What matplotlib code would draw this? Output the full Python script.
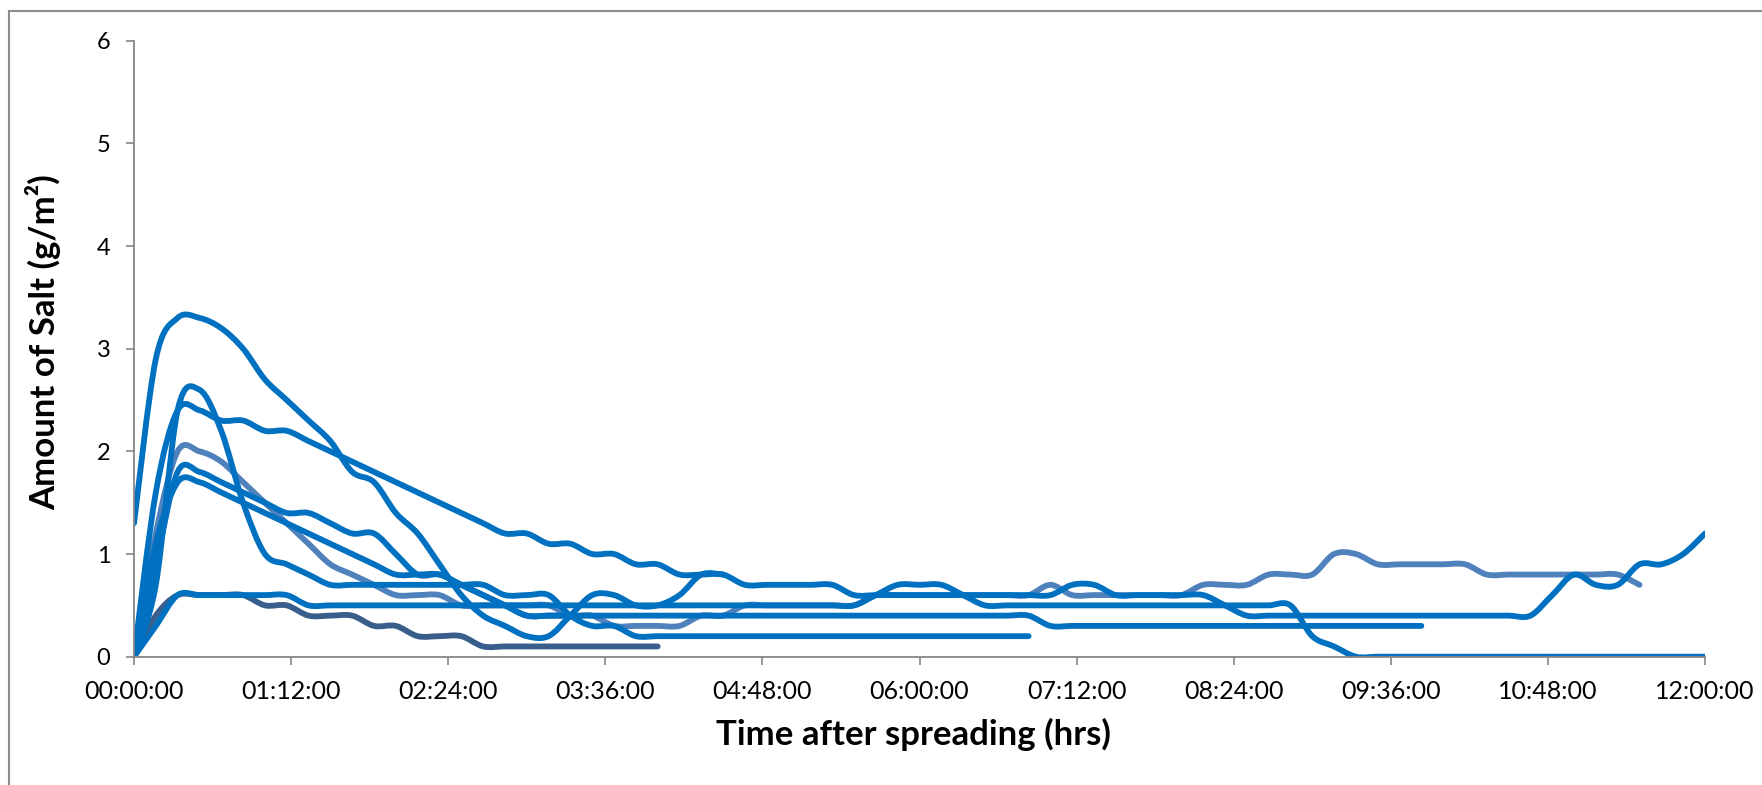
import numpy as np
import matplotlib
matplotlib.use("Agg")
import matplotlib.pyplot as plt
from matplotlib.path import Path
from matplotlib.patches import PathPatch
from matplotlib.lines import Line2D

plt.rcParams['font.family'] = ['Lato', 'DejaVu Sans']

# readings every 10 minutes after spreading (g/m2)
step_min = 10

run_a = [0.0, 1.6, 2.4, 2.4, 2.3, 2.3, 2.2, 2.2, 2.1, 2.0, 1.9, 1.8, 1.7, 1.6, 1.5, 1.4, 1.3,
         1.2, 1.2, 1.1, 1.1, 1.0, 1.0, 0.9, 0.9, 0.8, 0.8, 0.8, 0.7, 0.7, 0.7, 0.7, 0.7,
         0.6, 0.6, 0.6, 0.6, 0.6, 0.6, 0.6, 0.6, 0.6, 0.6, 0.7, 0.7, 0.6, 0.6, 0.6, 0.6, 0.6,
         0.5, 0.4, 0.4, 0.4, 0.4, 0.4, 0.4, 0.4, 0.4, 0.4, 0.4, 0.4, 0.4, 0.4, 0.4,
         0.6, 0.8, 0.7, 0.7, 0.9, 0.9, 1.0, 1.2]
run_b = [1.3, 2.9, 3.3, 3.3, 3.2, 3.0, 2.7, 2.5, 2.3, 2.1, 1.8, 1.7, 1.4, 1.2, 0.9, 0.6, 0.4,
         0.3, 0.2, 0.2, 0.4, 0.6, 0.6, 0.5, 0.5, 0.6, 0.8, 0.8]
run_c = [0.0, 0.7, 2.4, 2.6, 2.2, 1.5, 1.0, 0.9, 0.8, 0.7, 0.7, 0.7, 0.7, 0.7, 0.7, 0.7, 0.7,
         0.6, 0.6, 0.6, 0.4, 0.3, 0.3, 0.2, 0.2, 0.2, 0.2, 0.2, 0.2, 0.2, 0.2, 0.2, 0.2,
         0.2, 0.2, 0.2, 0.2, 0.2, 0.2, 0.2, 0.2, 0.2]
run_d = [0.0, 1.2, 2.0, 2.0, 1.9, 1.7, 1.5, 1.3, 1.1, 0.9, 0.8, 0.7, 0.6, 0.6, 0.6, 0.5, 0.5,
         0.5, 0.5, 0.5, 0.4, 0.4, 0.3, 0.3, 0.3, 0.3, 0.4, 0.4, 0.5, 0.5, 0.5, 0.5, 0.5,
         0.5, 0.6, 0.6, 0.6, 0.6, 0.6, 0.6, 0.6, 0.6, 0.7, 0.6, 0.6, 0.6, 0.6, 0.6, 0.6,
         0.7, 0.7, 0.7, 0.8, 0.8, 0.8, 1.0, 1.0, 0.9, 0.9, 0.9, 0.9, 0.9, 0.8, 0.8, 0.8,
         0.8, 0.8, 0.8, 0.8, 0.7]
run_e = [0.0, 0.9, 1.8, 1.8, 1.7, 1.6, 1.5, 1.4, 1.4, 1.3, 1.2, 1.2, 1.0, 0.8, 0.8, 0.7, 0.6,
         0.5, 0.4, 0.4, 0.4]
run_f = [0.0, 1.1, 1.7, 1.7, 1.6, 1.5, 1.4, 1.3, 1.2, 1.1, 1.0, 0.9, 0.8, 0.8, 0.8, 0.7, 0.6,
         0.5, 0.4, 0.4, 0.4, 0.4, 0.4, 0.4, 0.4, 0.4, 0.4, 0.4, 0.4, 0.4, 0.4, 0.4, 0.4,
         0.4, 0.4, 0.4, 0.4, 0.4, 0.4, 0.4, 0.4, 0.4, 0.3, 0.3, 0.3, 0.3, 0.3, 0.3, 0.3,
         0.3, 0.3, 0.3, 0.3, 0.3, 0.3, 0.3, 0.3, 0.3, 0.3, 0.3]
run_g = [0.0, 0.3, 0.6, 0.6, 0.6, 0.6, 0.6, 0.6, 0.5, 0.5, 0.5, 0.5, 0.5, 0.5, 0.5, 0.5, 0.5,
         0.5, 0.5, 0.5, 0.5, 0.5, 0.5, 0.5, 0.5, 0.5, 0.5, 0.5, 0.5, 0.5, 0.5, 0.5, 0.5,
         0.5, 0.6, 0.7, 0.7, 0.7, 0.6, 0.5, 0.5, 0.5, 0.5, 0.5, 0.5, 0.5, 0.5, 0.5, 0.5,
         0.5, 0.5, 0.5, 0.5, 0.5, 0.2, 0.1, 0.0, 0.0, 0.0, 0.0, 0.0, 0.0, 0.0, 0.0, 0.0,
         0.0, 0.0, 0.0, 0.0, 0.0, 0.0, 0.0, 0.0]
run_h = [0.0, 0.4, 0.6, 0.6, 0.6, 0.6, 0.5, 0.5, 0.4, 0.4, 0.4, 0.3, 0.3, 0.2, 0.2, 0.2, 0.1,
         0.1, 0.1, 0.1, 0.1, 0.1, 0.1, 0.1, 0.1]

blue = "#0070C0"
light_blue = "#4F81BD"
dark_blue = "#3A5E8C"

# drawing order: the lighter/darker runs sit underneath
series = [(run_h, dark_blue), (run_d, light_blue), (run_a, blue), (run_b, blue),
          (run_c, blue), (run_e, blue), (run_f, blue), (run_g, blue)]


def smooth_path(x, y):
    # bezier segments like the "smoothed line" option of a spreadsheet chart
    pts = np.column_stack([x, y])
    n = len(pts)
    verts = [pts[0]]
    codes = [Path.MOVETO]
    for i in range(n - 1):
        p0 = pts[max(i - 1, 0)]
        p1 = pts[i]
        p2 = pts[i + 1]
        p3 = pts[min(i + 2, n - 1)]
        verts += [p1 + (p2 - p0) / 6, p2 - (p3 - p1) / 6, p2]
        codes += [Path.CURVE4] * 3
    return Path(verts, codes)


fig = plt.figure(figsize=(17.62, 7.85), dpi=100)
ax = fig.add_axes([134 / 1762, 1 - 656.7 / 785, (1705 - 134) / 1762, (656.7 - 40.7) / 785])

for values, color in series:
    minutes = np.arange(len(values)) * step_min
    patch = PathPatch(smooth_path(minutes, values), facecolor="none", edgecolor=color,
                      lw=4.2, capstyle="round", joinstyle="round")
    ax.add_patch(patch)

ax.set_xlim(0, 720)
ax.set_ylim(0, 6)
xticks = np.arange(0, 721, 72)
ax.set_xticks(xticks)
ax.set_xticklabels([f"{int(m // 60):02d}:{int(m % 60):02d}:00" for m in xticks])
ax.set_yticks(range(0, 7))

grey = "#868686"
for side in ["top", "right"]:
    ax.spines[side].set_visible(False)
for side in ["left", "bottom"]:
    ax.spines[side].set_color(grey)
    ax.spines[side].set_linewidth(1.3)
ax.tick_params(axis="both", direction="out", length=6, width=1.2, color=grey)
ax.tick_params(axis="x", labelsize=18, pad=11)
ax.tick_params(axis="y", labelsize=17, pad=11)

ax.set_xlabel("Time after spreading (hrs)", fontsize=25, fontweight="bold", va="center")
ax.xaxis.set_label_coords(0.496, -0.126)
ax.set_ylabel("Amount of Salt (g/m²)", fontsize=25, fontweight="bold", va="center")
ax.yaxis.set_label_coords(-0.058, 0.511)

# outer chart frame (only top and left edges fall inside the picture)
fig.add_artist(Line2D([9 / 1762, 1.0], [1 - 11 / 785, 1 - 11 / 785], color="#8C8C8C", lw=1.5))
fig.add_artist(Line2D([9 / 1762, 9 / 1762], [0.0, 1 - 11 / 785], color="#8C8C8C", lw=1.5))

fig.savefig("out.png", dpi=100)
